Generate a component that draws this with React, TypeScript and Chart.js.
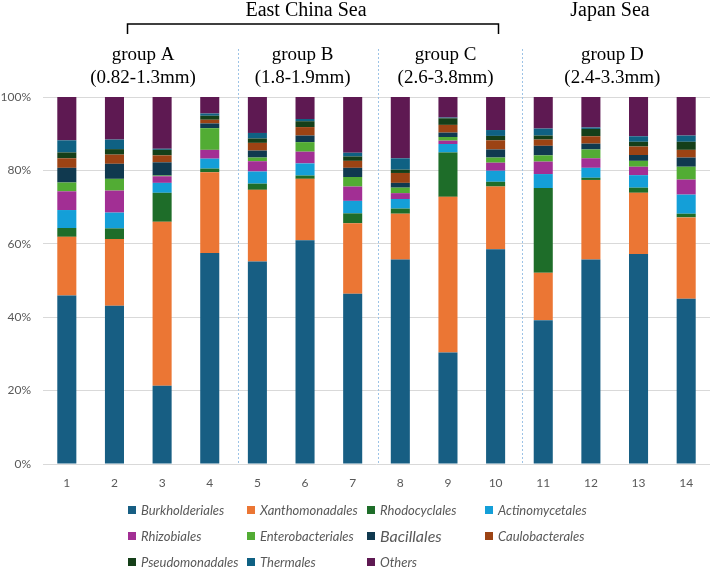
import React, { useEffect, useRef } from "react";
import { Chart, registerables } from "chart.js";

Chart.register(...registerables);

const categories = ["1", "2", "3", "4", "5", "6", "7", "8", "9", "10", "11", "12", "13", "14"];

const burkholderiales = [45.9, 43.1, 21.3, 57.5, 55.2, 61.0, 46.4, 55.7, 30.4, 58.5, 39.2, 55.7, 57.2, 45.0];
const xanthomonadales = [16.0, 18.2, 44.7, 22.0, 19.5, 16.7, 19.2, 12.5, 42.4, 17.1, 12.9, 21.7, 16.7, 22.2];
const rhodocyclales = [2.4, 2.9, 7.9, 1.0, 1.7, 0.9, 2.7, 1.4, 12.1, 1.3, 23.1, 0.6, 1.4, 1.0];
const actinomycetales = [4.9, 4.3, 2.7, 2.7, 3.3, 3.3, 3.4, 2.6, 2.3, 3.0, 3.8, 2.7, 3.4, 5.2];
const rhizobiales = [5.1, 6.0, 1.8, 2.4, 2.8, 3.2, 3.9, 1.6, 0.9, 2.2, 3.4, 2.6, 2.3, 4.1];
const enterobacteriales = [2.4, 3.2, 0.2, 5.9, 1.0, 2.6, 2.6, 1.5, 1.0, 1.4, 1.7, 2.4, 1.6, 3.5];
const bacillales = [4.0, 4.1, 3.6, 1.3, 1.9, 1.8, 2.5, 1.3, 1.2, 2.2, 2.6, 1.6, 1.6, 2.5];
const caulobacterales = [2.6, 2.5, 1.9, 1.0, 2.1, 2.3, 1.9, 2.7, 2.1, 2.5, 1.7, 2.0, 2.3, 2.1];
const pseudomonadales = [1.6, 1.5, 1.5, 1.1, 1.2, 1.6, 1.2, 0.9, 1.8, 1.2, 1.1, 2.0, 1.3, 2.2];
const thermales = [3.3, 2.6, 0.3, 0.6, 1.5, 0.6, 1.0, 3.1, 0.2, 1.6, 1.9, 0.4, 1.5, 1.7];
const others = [11.8, 11.6, 14.1, 4.5, 9.8, 6.0, 15.2, 16.7, 6.0, 9.0, 8.6, 8.3, 10.7, 10.5];

const yTicks = [0, 20, 40, 60, 80, 100];

const seriesNames = [
  "Burkholderiales", "Xanthomonadales", "Rhodocyclales", "Actinomycetales",
  "Rhizobiales", "Enterobacteriales", "Bacillales", "Caulobacterales",
  "Pseudomonadales", "Thermales", "Others",
];
const seriesValues = [
  burkholderiales, xanthomonadales, rhodocyclales, actinomycetales,
  rhizobiales, enterobacteriales, bacillales, caulobacterales,
  pseudomonadales, thermales, others,
];
const seriesColors = [
  "#175E83", "#EB7634", "#1E6D29", "#149FD8",
  "#A22F94", "#52AC34", "#10394F", "#9C4314",
  "#153F19", "#0F6183", "#5E1952",
];

const regionLabels = ["East China Sea", "Japan Sea"];
const groupTitles = ["group A", "group B", "group C", "group D"];
const groupRanges = ["(0.82-1.3mm)", "(1.8-1.9mm)", "(2.6-3.8mm)", "(2.4-3.3mm)"];

const annotationPlugin = {
  id: "annotations",
  afterDraw(chart: any) {
    const ctx = chart.ctx;
    const x = chart.scales.x;
    const y = chart.scales.y;
    const px = (v: number) => {
      const a = x.getPixelForValue(Math.floor(v));
      const b = x.getPixelForValue(Math.floor(v) + 1);
      return a + (b - a) * (v - Math.floor(v));
    };
    ctx.save();
    // dotted dividers
    ctx.strokeStyle = "#9DC3E6";
    ctx.lineWidth = 1;
    ctx.setLineDash([2, 2]);
    [3.6, 6.54, 9.55].forEach((v) => {
      const xp = Math.round(px(v)) + 0.5;
      ctx.beginPath();
      ctx.moveTo(xp, 49);
      ctx.lineTo(xp, y.bottom);
      ctx.stroke();
    });
    ctx.setLineDash([]);
    // bracket
    const bl = Math.round(px(1.26)) + 0.5;
    const br = Math.round(px(9.05)) + 0.5;
    ctx.strokeStyle = "#000";
    ctx.lineWidth = 1.5;
    ctx.beginPath();
    ctx.moveTo(bl, 34);
    ctx.lineTo(bl, 24);
    ctx.lineTo(br, 24);
    ctx.lineTo(br, 34);
    ctx.stroke();
    // texts
    ctx.fillStyle = "#000";
    ctx.textAlign = "center";
    ctx.textBaseline = "middle";
    ctx.font = "20px 'Liberation Serif', 'Times New Roman', serif";
    ctx.fillText(regionLabels[0], px(5.02), 11);
    ctx.fillText(regionLabels[1], px(11.4), 11);
    ctx.font = "19px 'Liberation Serif', 'Times New Roman', serif";
    const gx = [1.6, 4.95, 7.95, 11.45];
    groupTitles.forEach((t, i) => {
      ctx.fillText(t, px(gx[i]), 55);
      ctx.fillText(groupRanges[i], px(gx[i]), 78);
    });
    // legend
    const cols = [128, 247, 367, 485];
    const rows = [510, 536, 562];
    ctx.textAlign = "left";
    seriesNames.forEach((name, i) => {
      const c = i % 4;
      const r = Math.floor(i / 4);
      const lx = cols[c];
      const ly = rows[r];
      ctx.fillStyle = seriesColors[i];
      ctx.fillRect(lx, ly - 4, 8, 8);
      ctx.fillStyle = "#595959";
      ctx.font = name === "Bacillales" ? "italic 16px Lato, sans-serif" : "italic 13px Lato, sans-serif";
      ctx.fillText(name, lx + 13, ly + 1);
    });
    ctx.restore();
  },
};

export default function App() {
  const ref = useRef<HTMLCanvasElement | null>(null);
  useEffect(() => {
    if (!ref.current) return;
    const chart = new Chart(ref.current, {
      type: "bar",
      data: {
        labels: categories,
        datasets: seriesNames.map((n, i) => ({
          label: n,
          data: seriesValues[i],
          backgroundColor: seriesColors[i],
          borderWidth: 0,
          barPercentage: 0.4,
          categoryPercentage: 1,
        })),
      },
      options: {
        animation: false,
        responsive: true,
        maintainAspectRatio: false,
        layout: { padding: { top: 97, right: 2, bottom: 75, left: 0 } },
        plugins: { legend: { display: false }, tooltip: { enabled: false } },
        scales: {
          x: {
            stacked: true,
            grid: { display: false, drawTicks: false },
            border: { display: false },
            ticks: { color: "#595959", font: { family: "Lato", size: 12 }, padding: 12 },
            afterFit: (s: any) => { s.height = 30; },
          },
          y: {
            stacked: true,
            min: 0,
            max: 100,
            afterBuildTicks: (s: any) => { s.ticks = yTicks.map((v) => ({ value: v })); },
            grid: { color: "#D9D9D9", drawTicks: false },
            border: { display: false },
            ticks: {
              color: "#595959",
              font: { family: "Lato", size: 12 },
              padding: 12,
              callback: (v: any) => v + "%",
            },
            afterFit: (s: any) => { s.width = 43; },
          },
        },
      },
      plugins: [annotationPlugin],
    });
    return () => chart.destroy();
  }, []);
  return (
    <div style={{ position: "fixed", left: 0, top: 0, width: 712, height: 569, background: "#fff" }}>
      <canvas ref={ref} />
    </div>
  );
}
